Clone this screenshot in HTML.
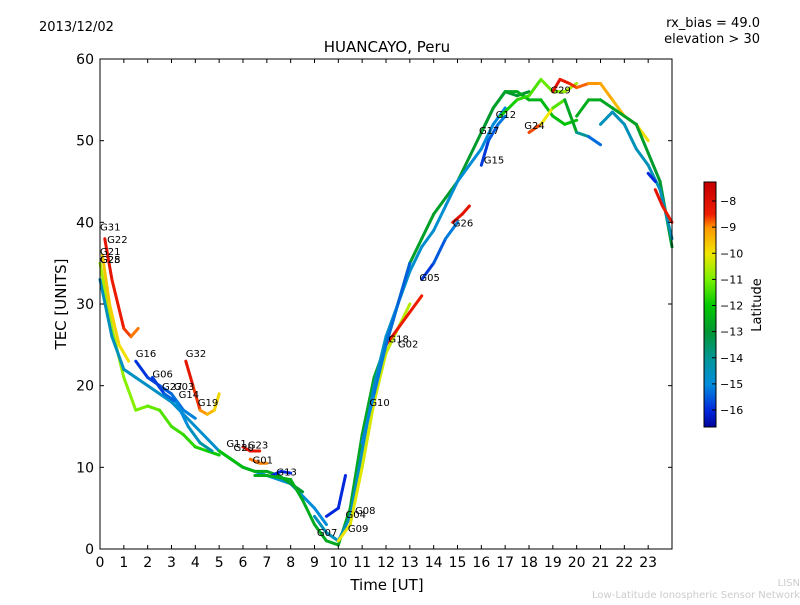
<!DOCTYPE html>
<html><head><meta charset="utf-8"><style>
body{margin:0;background:#fff;font-family:"Liberation Sans","DejaVu Sans",sans-serif}
svg text{font-family:"DejaVu Sans","Liberation Sans",sans-serif}
</style></head><body>
<svg id="c" width="800" height="600" xmlns="http://www.w3.org/2000/svg">
<rect width="800" height="600" fill="#fff"/>
<text x="39" y="31" font-size="13">2013/12/02</text>
<text x="760" y="27" font-size="13" text-anchor="end">rx_bias = 49.0</text>
<text x="760" y="43" font-size="13" text-anchor="end">elevation &gt; 30</text>
<text x="387" y="52" font-size="15" text-anchor="middle">HUANCAYO, Peru</text>
<text x="387" y="590" font-size="15" text-anchor="middle">Time [UT]</text>
<text x="66" y="304" font-size="15" text-anchor="middle" transform="rotate(-90 66 304)">TEC [UNITS]</text>
<text x="800" y="586" font-size="10" fill="#ccc" text-anchor="end">LISN</text>
<text x="800" y="598" font-size="10" fill="#ccc" text-anchor="end">Low-Latitude Ionospheric Sensor Network</text>
<g id="plot"></g>
<g id="axes"></g>
<g id="cbar"></g>
</svg>
<script>
const xTicks=[0,1,2,3,4,5,6,7,8,9,10,11,12,13,14,15,16,17,18,19,20,21,22,23];
const yTicks=[0,10,20,30,40,50,60];
const cbTicks=[-8,-9,-10,-11,-12,-13,-14,-15,-16];
const traceTimes=[
[0,0.5,1,1.5,2,2.5,3,3.5,4,4.5,5],
[0,0.5,1,1.5,2,3,4,5,6,7,8,9,9.5],
[0.2,0.5,1,1.3,1.6],
[0.1,0.4,0.8,1.2],
[1.5,2,2.5,3,3.5,4],
[3.6,3.9,4.2,4.5,4.8,5],
[2.2,2.7,3.2,3.7,4.2,4.7],
[5,5.5,6,6.5,7,7.5,8,8.5],
[6,6.3,6.7],
[6.3,6.7,7],
[7.2,7.6,8],
[6.5,7,8,8.5,9,9.5,10,10.5,11,11.5,12,12.5,13,13.5,14,14.5,15,15.5,16,16.5,17,17.5,18],
[9,9.5,10,10.5,11,11.5,12,12.5,13,13.5,14,14.5,15,15.5,16,16.5,17],
[9.5,10,10.3],
[10,10.5,11,11.5,12,12.5,13],
[12,12.5,13,13.5],
[11,11.5,12,12.5,13],
[13.5,14,14.5,15],
[14.8,15.2,15.5],
[16,16.3,16.7,17],
[16,16.5,17,17.5,18,18.5,19,19.5,20],
[16.8,17.5,18,18.5,19,19.5,20],
[18,18.5,19,19.5,20,20.5,21],
[19,19.3,19.7,20,20.5,21,21.5,22,22.5,23],
[20,20.5,21,21.5,22,22.5,23,23.5,24],
[21,21.5,22,22.5,23,23.5,24],
[23,23.3],
[23.3,23.6,24]];
const traceTec=[
[35,27,21,17,17.5,17,15,14,12.5,12,11.5],
[33,26,22,21,20,18,15,12,10,9,8,5,3],
[38,33,27,26,27],
[36,30,25,23],
[23,21,20,19,17,16],
[23,20,17,16.5,17,19],
[21,19,18,15,13,12],
[12,11,10,9.5,9.5,9,8,7],
[12.5,12,12],
[11,10.5,10.5],
[9,9.5,9.3],
[9,9,8.5,6,3,1,0.5,5,14,21,25,30,35,38,41,43,45,48,51,54,56,55.5,56],
[4,2,1,4,12,20,26,30,34,37,39,42,45,47,49,52,54],
[4,5,9],
[1,3,10,18,24,27,30],
[25,27,29,31],
[13,19,25,30,35],
[33,35,38,40],
[40,41,42],
[47,50,52,53],
[51,54,56,56,55,55,53,52,52.5],
[53,55,55.5,57.5,56,56,57],
[51,52,54,55,51,50.5,49.5],
[56,57.5,57,56.5,57,57,55,53,52,50],
[53,55,55,54,53,52,48.5,45,37],
[52,53.5,52,49,47,44,38],
[46,45],
[44,42,40]];
const latStart=[-10.5,-14.5,-8,-9.5,-16,-8,-16,-12,-8,-8.8,-16,-12.5,-14.5,-16,-10,-8.2,-15,-16,-8,-16,-13,-12,-8,-8,-12.5,-14.5,-16,-8];
const latEnd=[-12,-15,-9,-10,-15,-10,-14,-13,-8.3,-9,-16,-13,-15,-16,-10.5,-8.5,-15.5,-15,-8.2,-15,-12,-10.5,-16,-10,-13,-14.5,-16,-8.5];
const labelNames=["G31","G22","G21","G28","G25","G16","G06","G27","G03","G14","G32","G19","G11","G20","G23","G01","G13","G07","G09","G04","G08","G18","G02","G10","G05","G26","G15","G17","G12","G24","G29"];
const labelT=[0,0.3,0,0,0,1.5,2.2,2.6,3.1,3.3,3.6,4.1,5.3,5.6,6.2,6.4,7.4,9.1,10.4,10.3,10.7,12.1,12.5,11.3,13.4,14.8,16.1,15.9,16.6,17.8,18.9];
const labelV=[39,37.5,36,35,35,23.5,21,19.5,19.5,18.5,23.5,17.5,12.5,12,12.3,10.5,9,1.6,2.1,3.8,4.3,25.3,24.7,17.5,32.8,39.5,47.2,50.8,52.8,51.4,55.8];
const X=t=>100+t*(572/24), Y=v=>549-v*(490/60);
const cbY=l=>201+(-8-l)*(209/8);
const cmLat=[-7.4,-8.5,-9,-10,-11,-12,-13,-14,-15,-16,-16.7];
const cmRGB=[[200,0,0],[240,30,0],[255,150,0],[240,230,0],[120,240,0],[0,200,0],[0,150,50],[0,150,150],[0,140,220],[0,40,220],[0,0,150]];
function cmap(l){
 if(l>=cmLat[0])return `rgb(${cmRGB[0]})`;
 for(let i=0;i<cmLat.length-1;i++){
  if(l<=cmLat[i]&&l>=cmLat[i+1]){const f=(cmLat[i]-l)/(cmLat[i]-cmLat[i+1]);
   const c=cmRGB[i].map((v,k)=>Math.round(v+(cmRGB[i+1][k]-v)*f));return `rgb(${c})`;}
 }
 return `rgb(${cmRGB[cmRGB.length-1]})`;
}
const NS="http://www.w3.org/2000/svg";
function mk(tag,attrs,parent){const e=document.createElementNS(NS,tag);for(const k in attrs)e.setAttribute(k,attrs[k]);parent.appendChild(e);return e;}
const plot=document.getElementById('plot');
traceTimes.forEach((ts,i)=>{
 const g=mk('g',{},plot);
 
 
 for(let j=0;j<ts.length-1;j++){
  const fr=(j+0.5)/Math.max(1,ts.length-1);
  const lat=latStart[i]+(latEnd[i]-latStart[i])*fr;
  const s=mk('line',{x1:X(ts[j]),y1:Y(traceTec[i][j]),x2:X(ts[j+1]),y2:Y(traceTec[i][j+1]),stroke:cmap(lat),'stroke-width':3,'stroke-linecap':'round'},g);
  
  
 }
});
labelNames.forEach((n,i)=>{
 const t=mk('text',{x:X(labelT[i]),y:Y(labelV[i]),'font-size':10},plot);
 t.textContent=n;
 
 
});
const ax=document.getElementById('axes');
const fr=mk('rect',{x:100,y:59,width:572,height:490,fill:'none',stroke:'#000'},ax);


xTicks.forEach(t=>{
 mk('line',{x1:X(t),x2:X(t),y1:549,y2:545,stroke:'#000'},ax);
 mk('line',{x1:X(t),x2:X(t),y1:59,y2:63,stroke:'#000'},ax);
 const l=mk('text',{x:X(t),y:567,'font-size':14,'text-anchor':'middle'},ax);l.textContent=t;
 
 
});
yTicks.forEach(v=>{
 mk('line',{x1:100,x2:104,y1:Y(v),y2:Y(v),stroke:'#000'},ax);
 mk('line',{x1:672,x2:668,y1:Y(v),y2:Y(v),stroke:'#000'},ax);
 const l=mk('text',{x:94,y:Y(v)+5,'font-size':14,'text-anchor':'end'},ax);l.textContent=v;
 
 
});
const cb=document.getElementById('cbar');
for(let y=182;y<427;y++){const l=-8-(y-201)*8/209;mk('rect',{x:704,y:y,width:12,height:1.2,fill:cmap(l)},cb);}
const cbf=mk('rect',{x:704,y:182,width:12,height:245,fill:'none',stroke:'#000'},cb);


cbTicks.forEach(l=>{
 mk('line',{x1:712,x2:716,y1:cbY(l),y2:cbY(l),stroke:'#000'},cb);
 const t=mk('text',{x:720,y:cbY(l)+4,'font-size':11},cb);t.textContent='\u2212'+(-l);
 
 
});
const ct=mk('text',{x:761,y:305,'font-size':13,'text-anchor':'middle',transform:'rotate(-90 761 305)'},cb);ct.textContent='Latitude';


</script>
</body></html>
